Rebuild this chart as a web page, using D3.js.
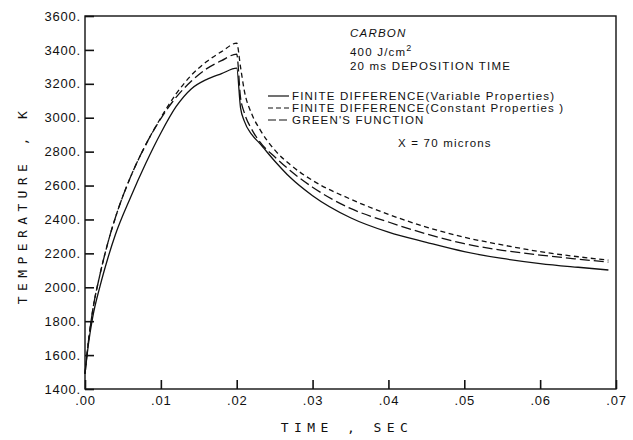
<!DOCTYPE html>
<html>
<head>
<meta charset="utf-8">
<script src="https://cdn.jsdelivr.net/npm/d3@7"></script>
<style>
  body { margin: 0; background: #fff; }
  svg { font-family: "Liberation Sans", Arial, sans-serif; }
  .axis-title { font-family: "DejaVu Sans Mono", monospace; font-size: 13px; letter-spacing: 5.4px; }
  .tick-label { font-size: 13px; letter-spacing: 0.8px; }
  .note { font-size: 11.5px; letter-spacing: 1.2px; }
</style>
</head>
<body>
<svg id="chart" width="633" height="440"></svg>
<script>
// time, sec
const TIME = [0, .0005, .001, .002, .003, .004, .006, .008, .010, .012, .014, .016, .018, .020,
              .0205, .021, .022, .023, .025, .027, .030, .035, .040, .045, .050, .055, .060, .065, .069];
// finite difference, variable properties (solid)
const FD_VARIABLE = [1490, 1680, 1820, 2010, 2170, 2310, 2530, 2730, 2910, 3065, 3170, 3225, 3260, 3292,
                     3060, 2980, 2900, 2850, 2745, 2650, 2540, 2410, 2325, 2265, 2210, 2170, 2140, 2118, 2102];
// finite difference, constant properties (short dash)
const FD_CONSTANT = [1490, 1700, 1860, 2080, 2260, 2410, 2650, 2840, 3000, 3140, 3250, 3330, 3390, 3440,
                     3300, 3160, 3020, 2935, 2810, 2725, 2630, 2520, 2430, 2355, 2295, 2250, 2210, 2180, 2160];
// green's function (long dash)
const GREENS = [1490, 1700, 1860, 2080, 2260, 2410, 2650, 2840, 2995, 3120, 3215, 3288, 3337, 3375,
                3120, 3030, 2930, 2860, 2770, 2690, 2590, 2465, 2385, 2315, 2257, 2218, 2190, 2166, 2148];

const X_TICKS = [0, .01, .02, .03, .04, .05, .06, .07];
const X_TICK_LABELS = [".00", ".01", ".02", ".03", ".04", ".05", ".06", ".07"];
const Y_TICKS = [1400, 1600, 1800, 2000, 2200, 2400, 2600, 2800, 3000, 3200, 3400, 3600];

const LEGEND = ["FINITE DIFFERENCE(Variable Properties)",
                "FINITE DIFFERENCE(Constant Properties )",
                "GREEN'S FUNCTION"];

function drawChart() {
  var svg = d3.select("#chart");
  var mLeft = 85, mRight = 616, mTop = 16, mBottom = 389;

  var x = d3.scaleLinear().domain([0, .07]).range([mLeft, mRight]);
  var y = d3.scaleLinear().domain([1400, 3600]).range([mBottom, mTop]);

  // frame
  svg.append("rect")
    .attr("x", mLeft).attr("y", mTop)
    .attr("width", mRight - mLeft).attr("height", mBottom - mTop)
    .attr("fill", "none").attr("stroke", "#111").attr("stroke-width", 1.4);

  // axes, ticks drawn inward
  var xAxis = d3.axisBottom(x).tickValues(X_TICKS).tickSize(-9)
    .tickFormat(function(d, i) { return X_TICK_LABELS[i]; });
  var gx = svg.append("g").attr("transform", "translate(0," + mBottom + ")").call(xAxis);
  gx.select(".domain").remove();
  gx.selectAll(".tick line").attr("stroke", "#111").attr("stroke-width", 1.6);
  gx.selectAll(".tick text").attr("class", "tick-label").attr("fill", "#111").attr("y", 7);
  gx.attr("font-family", null).attr("font-size", null);

  var yAxis = d3.axisLeft(y).tickValues(Y_TICKS).tickSize(-9)
    .tickFormat(function(d) { return d + "."; });
  var gy = svg.append("g").attr("transform", "translate(" + mLeft + ",0)").call(yAxis);
  gy.select(".domain").remove();
  gy.selectAll(".tick line").attr("stroke", "#111").attr("stroke-width", 1.6);
  gy.selectAll(".tick text").attr("class", "tick-label").attr("fill", "#111").attr("x", -4);
  gy.attr("font-family", null).attr("font-size", null);

  // axis titles
  svg.append("text").attr("class", "axis-title")
    .attr("x", 347).attr("y", 432).attr("text-anchor", "middle").attr("fill", "#111")
    .text("TIME , SEC");
  svg.append("text").attr("class", "axis-title")
    .attr("transform", "translate(27,205) rotate(-90)").attr("text-anchor", "middle").attr("fill", "#111")
    .text("TEMPERATURE , K");

  // curves
  var series = [
    {vals: FD_VARIABLE, dash: null},
    {vals: FD_CONSTANT, dash: "5,3.5"},
    {vals: GREENS, dash: "10,4"}
  ];
  var line = d3.line()
    .x(function(d) { return x(d[0]); })
    .y(function(d) { return y(d[1]); })
    .curve(d3.curveMonotoneX);

  svg.selectAll("path.curve")
    .data(series)
    .enter().append("path")
    .attr("class", "curve")
    .attr("fill", "none")
    .attr("stroke", "#111")
    .attr("stroke-width", 1.3)
    .attr("stroke-dasharray", function(d) { return d.dash; })
    .attr("d", function(d) { return line(TIME.map(function(t, i) { return [t, d.vals[i]]; })); });

  // annotations
  svg.append("text").attr("class", "note").attr("x", 350).attr("y", 37)
    .attr("font-style", "italic").attr("fill", "#111").text("CARBON");
  var t2 = svg.append("text").attr("class", "note").attr("x", 350).attr("y", 56).attr("fill", "#111");
  t2.append("tspan").text("400 J/cm");
  t2.append("tspan").attr("font-size", "9px").attr("dy", -5).text("2");
  svg.append("text").attr("class", "note").attr("x", 350).attr("y", 70)
    .attr("fill", "#111").text("20 ms DEPOSITION TIME");

  var leg = svg.append("g").attr("class", "legend");
  leg.selectAll("line")
    .data(series)
    .enter().append("line")
    .attr("x1", 268).attr("x2", 289)
    .attr("y1", function(d, i) { return 96 + i * 12; })
    .attr("y2", function(d, i) { return 96 + i * 12; })
    .attr("stroke", "#111").attr("stroke-width", 1.2)
    .attr("stroke-dasharray", function(d, i) { return i == 1 ? "5,3" : (i == 2 ? "8,3" : null); });
  leg.selectAll("text")
    .data(LEGEND)
    .enter().append("text")
    .attr("class", "note")
    .attr("x", 292)
    .attr("y", function(d, i) { return 100 + i * 12; })
    .attr("fill", "#111")
    .text(function(d) { return d; });

  svg.append("text").attr("class", "note").attr("x", 398).attr("y", 147)
    .attr("fill", "#111").text("X = 70 microns");
}

drawChart();
</script>
</body>
</html>
